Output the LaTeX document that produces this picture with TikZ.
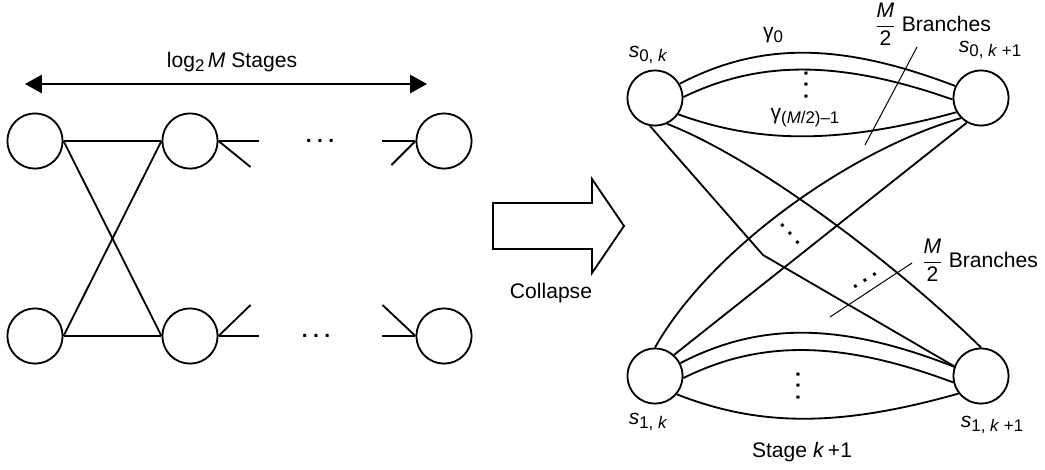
\documentclass[tikz,border=0pt]{standalone}
\usepackage{amsmath}
\usepackage{fontspec}
\setmainfont{Liberation Sans}
\usetikzlibrary{positioning}
\usetikzlibrary{calc}
\usetikzlibrary{arrows.meta}

% three spaced dots, rotated by the node that holds them
\newcommand{\gapdots}{.\kern3.8pt.\kern3.8pt.}
% large, slightly lowered subscript
\newcommand{\lowtext}[1]{\raisebox{-2.8pt}{\fontsize{12}{14}\selectfont #1}}

\begin{document}
\begin{tikzpicture}[
    x=0.025cm, y=-0.025cm,
    % node styles
    state/.style = {
      circle,
      draw,
      line width=1.3pt,
      minimum size=1.38cm,
      inner sep=0pt
    },
    lbl/.style = {
      inner sep=1pt,
      font=\fontsize{15}{18}\selectfont
    },
    ellip/.style = {
      inner sep=0pt,
      font=\fontsize{15}{18}\selectfont\bfseries
    },
    % line styles
    wire/.style = {line width=1.3pt},
    leader/.style = {line width=0.7pt},
    stagearr/.style = {{Triangle[length=12pt,width=13pt]}-{Triangle[length=12pt,width=13pt]}, line width=1.3pt}
  ]

  \useasboundingbox (0,0) rectangle (1045,469);

  % --- Left trellis: nodes
  \node[state] (a1) at (35,141) {};
  \node[state] (b1) at (190,141) {};
  \node[state] (c1) at (444,141) {};
  \node[state] (a2) at (35,336) {};
  \node[state] (b2) at (190,336) {};
  \node[state] (c2) at (444,336) {};

  % --- Left trellis: butterfly
  \draw[wire] (a1.east) -- (b1.west);
  \draw[wire] (a2.east) -- (b2.west);
  \draw[wire] (a1.east) -- (b2.west);
  \draw[wire] (a2.east) -- (b1.west);

  % stubs leaving the second stage
  \draw[wire] (b1.east) -- ++(40,0) coordinate (b1out);
  \draw[wire] (b1.east) -- ++(32,26) coordinate (b1dn);
  \draw[wire] (b2.east) -- ++(40,0) coordinate (b2out);
  \draw[wire] (b2.east) -- ++(32,-31) coordinate (b2up);

  % stubs entering the last stage
  \draw[wire] (c1.west) -- ++(-33,0) coordinate (c1in);
  \draw[wire] (c1.west) -- ++(-24,24) coordinate (c1dn);
  \draw[wire] (c2.west) -- ++(-33,0) coordinate (c2in);
  \draw[wire] (c2.west) -- ++(-33,-31) coordinate (c2up);

  \node[ellip] (dl1) at (320,141) {\gapdots};
  \node[ellip] (dl2) at (316,336) {\gapdots};

  % --- Stage count
  \coordinate (stL) at (25,84);
  \coordinate (stR) at (427,84);
  \draw[stagearr] (stL) -- (stR);
  \node[lbl] (stages) at (232,62) {log\lowtext{2}\,\textit{M} Stages};

  % --- Collapse arrow
  \draw[wire] (493,203) -- (592,203) -- (592,179) -- (624,226)
    -- (592,273) -- (592,249) -- (493,249) -- cycle;
  \node[lbl] (collapse) at (551,293) {Collapse};

  % --- Collapsed stage: nodes
  \node[state] (s0k) at (655,98) {};
  \node[state] (s0n) at (981,98) {};
  \node[state] (s1k) at (655,376) {};
  \node[state] (s1n) at (981,376) {};

  \node[lbl] (s0klab) at (648,55) {\textit{s}\lowtext{0, \textit{k}}};
  \node[lbl] (s0nlab) at (990,50) {\textit{s}\lowtext{0, \textit{k} +1}};
  \node[lbl] (s1klab) at (648,422) {\textit{s}\lowtext{1, \textit{k}}};
  \node[lbl] (s1nlab) at (992,425) {\textit{s}\lowtext{1, \textit{k} +1}};

  % parallel branches s0 -> s0
  \draw[wire] (s0k.30) .. controls (760,42) and (840,42) .. (s0n.155);
  \draw[wire] (s0k.2) .. controls (760,60) and (840,60) .. (s0n.183);
  \draw[wire] (s0k.-35) .. controls (760,144) and (840,144) .. (s0n.210);

  % parallel branches s1 -> s1
  \draw[wire] (s1k.27) .. controls (760,322) and (840,322) .. (s1n.161);
  \draw[wire] (s1k.-4) .. controls (760,340) and (840,340) .. (s1n.193);
  \draw[wire] (s1k.-40) .. controls (760,427) and (840,427) .. (s1n.218);

  % crossing branches
  \coordinate (kink) at (763,255);
  \draw[wire] (s0k.-100) -- (kink) -- (s1n.160);
  \draw[wire] (s0k.-65) .. controls (760,160) and (900,268) .. (s1n.90);
  \draw[wire] (s1k.90) .. controls (710,250) and (850,150) .. (s0n.225);
  \draw[wire] (s1k.48) -- (s0n.240);

  % dots between branches
  \node[ellip, rotate=90] (dv0) at (806,85) {\gapdots};
  \node[ellip, rotate=90] (dv1) at (798,386) {\gapdots};
  \node[ellip, rotate=-48] (dx0) at (790,234) {\gapdots};
  \node[ellip, rotate=32] (dx1) at (865,281) {\gapdots};

  % branch labels
  \node[lbl] (g0) at (773,35) {γ\lowtext{0}};
  \node[lbl] (glast) at (805,118) {γ\lowtext{(\textit{M}/2)--1}};

  \node[lbl] (br0) at (933,24) {$\dfrac{\mbox{\itshape M}}{\mbox{2}}$ Branches};
  \coordinate (ld0a) at (917,47);
  \coordinate (ld0b) at (865,145);
  \draw[leader] (ld0a) -- (ld0b);

  \node[lbl] (br1) at (980,260) {$\dfrac{\mbox{\itshape M}}{\mbox{2}}$ Branches};
  \coordinate (ld1a) at (912,263);
  \coordinate (ld1b) at (830,317);
  \draw[leader] (ld1a) -- (ld1b);

  \node[lbl] (stage) at (802,452) {Stage \textit{k}\,+1};
\end{tikzpicture}
\end{document}
